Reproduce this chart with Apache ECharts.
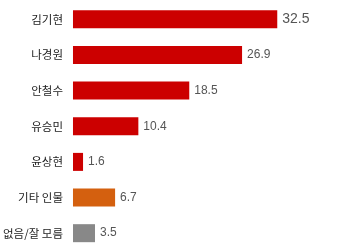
<!DOCTYPE html>
<html><head><meta charset="utf-8">
<script src="https://cdn.jsdelivr.net/npm/echarts@6/dist/echarts.min.js"></script>
<style>html,body{margin:0;padding:0;background:#fff}#c{width:340px;height:251px}</style>
</head><body><div id="c"></div>
<script>
const categories = ['김기현','나경원','안철수','유승민','윤상현','기타 인물','없음/잘 모름'];
const values = [32.5, 26.9, 18.5, 10.4, 1.6, 6.7, 3.5];
const colors = ['#cc0000','#cc0000','#cc0000','#cc0000','#cc0000','#d4600f','#888888'];
const chart = echarts.init(document.getElementById('c'));
chart.setOption({
  animation:false,
  grid:{left:72, right:15.6, top:1.5, height:250.5},
  xAxis:{type:'value', min:0, max:40, show:false},
  yAxis:{type:'category', data:categories, inverse:true,
    axisLine:{show:false}, axisTick:{show:false}, splitLine:{show:false},
    axisLabel:{margin:10, color:'#222', fontSize:11.5, fontFamily:'Noto Sans CJK KR'}},
  series:[{type:'bar', barWidth:18,
    data: values.map((v,i)=>({value:v, itemStyle:{color:colors[i]}})),
    label:{show:true, position:'right', distance:5, color:'#555', fontFamily:'Liberation Sans',
      fontSize:12,
      formatter:p=> p.dataIndex===0 ? '{b|'+p.value+'}' : ''+p.value,
      rich:{b:{fontSize:14, color:'#555', fontFamily:'Liberation Sans'}}}
  }]
});
</script></body></html>
